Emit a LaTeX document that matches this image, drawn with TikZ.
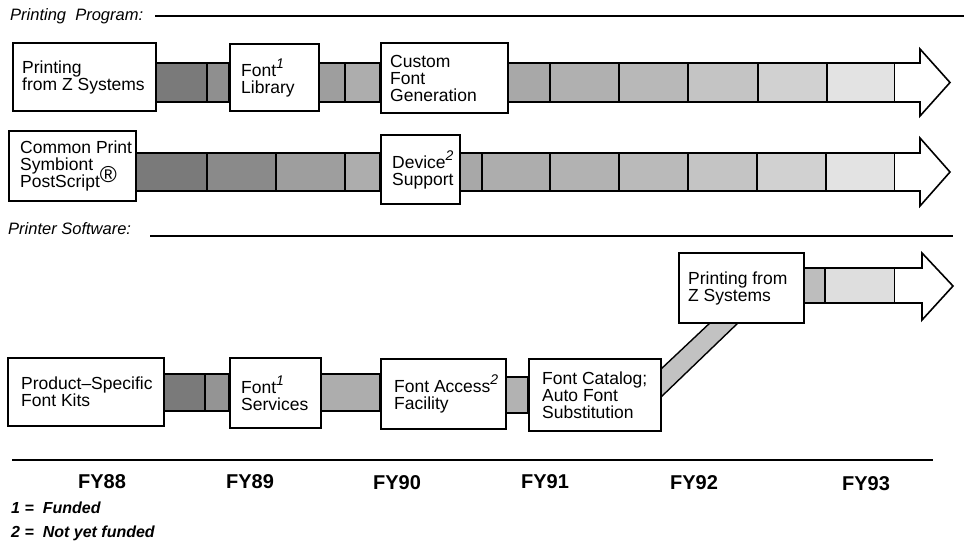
\documentclass[tikz,border=0pt]{standalone}
\usepackage{fontspec}
\setmainfont{Liberation Sans}
\newcommand\supn[1]{\raisebox{8pt}{\fontsize{14}{14}\selectfont\itshape #1}}
\newcommand\pbox[7]{%
  \node[boxframe, minimum width=#4pt, minimum height=#5pt] (#1) at (#2,#3) {};
  \node[boxtext] (#1t) at ([xshift=#6pt]#1.west) {#7};}
\newcommand\sg[5]{\path[seg,fill=black!#5] (#1,#3) rectangle (#2,#4);}
\begin{document}
\begin{tikzpicture}[x=1pt,y=-1pt,
  boxframe/.style={draw, line width=2.3pt, fill=white, inner sep=0pt, anchor=north west},
  boxtext/.style={anchor=west, align=left, inner sep=0pt, font=\fontsize{17.5}{17}\selectfont},
  seg/.style={draw, line width=1.4pt},
  rule/.style={line width=2pt},
  head/.style={draw, line width=1.6pt, fill=white, line join=miter},
  title/.style={anchor=base west, inner sep=0pt, font=\fontsize{16.5}{16.5}\selectfont\itshape},
  fy/.style={anchor=base, inner sep=0pt, font=\fontsize{20}{20}\selectfont\bfseries},
  note/.style={anchor=base west, inner sep=0pt, font=\fontsize{16}{16}\selectfont\bfseries\itshape}]
\useasboundingbox (0,0) rectangle (964,542);

% section titles and rules
\node[title] (t1) at (10,20) {Printing\ \ Program:};
\coordinate (t1a) at (155,16);
\coordinate (t1b) at (964,16);
\draw[rule] (t1a) -- (t1b);
\node[title] (t2) at (8,234) {Printer Software:};
\coordinate (t2a) at (150,236);
\coordinate (t2b) at (953,236);
\draw[rule] (t2a) -- (t2b);

% row 1 bar
\sg{155}{207}{63}{102}{52}
\sg{207}{229}{63}{102}{44}
\sg{318}{345}{63}{102}{38}
\sg{345}{380}{63}{102}{32}
\sg{507}{550}{63}{102}{34}
\sg{550}{619}{63}{102}{31}
\sg{619}{688}{63}{102}{28}
\sg{688}{758}{63}{102}{23}
\sg{758}{827}{63}{102}{18}
\sg{827}{895}{63}{102}{11}
\draw[head] (895,63) -- (920,63) -- (920,49) -- (950,82.5) -- (920,116) -- (920,102) -- (895,102);

% row 2 bar
\sg{135}{207}{153}{191}{52}
\sg{207}{276}{153}{191}{46}
\sg{276}{345}{153}{191}{38}
\sg{345}{380}{153}{191}{32}
\sg{459}{482}{153}{191}{34}
\sg{482}{550}{153}{191}{32}
\sg{550}{619}{153}{191}{30}
\sg{619}{688}{153}{191}{27}
\sg{688}{757}{153}{191}{23}
\sg{757}{826}{153}{191}{18}
\sg{826}{895}{153}{191}{11}
\draw[head] (895,153) -- (920,153) -- (920,138) -- (950,172) -- (920,206) -- (920,191) -- (895,191);

% row 3 bar
\sg{803}{825}{268}{303}{26}
\sg{825}{895}{268}{303}{13}
\draw[head] (895,268) -- (922,268) -- (922,253) -- (953,286) -- (922,320) -- (922,303) -- (895,303);

% row 4 bar
\sg{163}{205}{374}{411}{52}
\sg{205}{229}{374}{411}{42}
\sg{320}{380}{374}{411}{32}
\sg{505}{528}{377}{413}{30}
\path[seg, fill=black!24] (660,370) -- (712,321) -- (740,321) -- (660,398) -- cycle;

% boxes
\pbox{b1}{12}{42}{143}{68}{10}{Printing\\from Z Systems}
\pbox{b2}{229}{43}{89}{67}{12}{Font\supn{1}\\Library}
\pbox{b3}{380}{42}{127}{70}{10}{Custom\\Font\\Generation}
\pbox{b4}{8}{130}{127}{70}{12}{Common Print\\Symbiont\\PostScript\smash{\raisebox{5pt}{\fontsize{23}{23}\selectfont ®}}}
\pbox{b5}{380}{134}{79}{69}{12}{Device\supn{2}\\Support}
\pbox{b6}{678}{252}{125}{70}{10}{Printing from\\Z Systems}
\pbox{b7}{7}{357}{156}{68}{14}{Product–Specific\\Font Kits}
\pbox{b8}{229}{357}{91}{70}{12}{Font\supn{1}\\Services}
\pbox{b9}{380}{358}{125}{70}{14}{Font Access\supn{2}\\Facility}
\pbox{b10}{528}{358}{132}{72}{14}{Font Catalog;\\Auto Font\\Substitution}

% time axis
\coordinate (axa) at (12,460);
\coordinate (axb) at (933,460);
\draw[line width=1.6pt] (axa) -- (axb);
\node[fy] (fy88) at (102,488) {FY88};
\node[fy] (fy89) at (250,488) {FY89};
\node[fy] (fy90) at (397,489) {FY90};
\node[fy] (fy91) at (545,488) {FY91};
\node[fy] (fy92) at (694,489) {FY92};
\node[fy] (fy93) at (866,490) {FY93};

% notes
\node[note] (n1) at (11,513) {1 =\ \ Funded};
\node[note] (n2) at (11,537) {2 =\ \ Not yet funded};
\end{tikzpicture}
\end{document}
